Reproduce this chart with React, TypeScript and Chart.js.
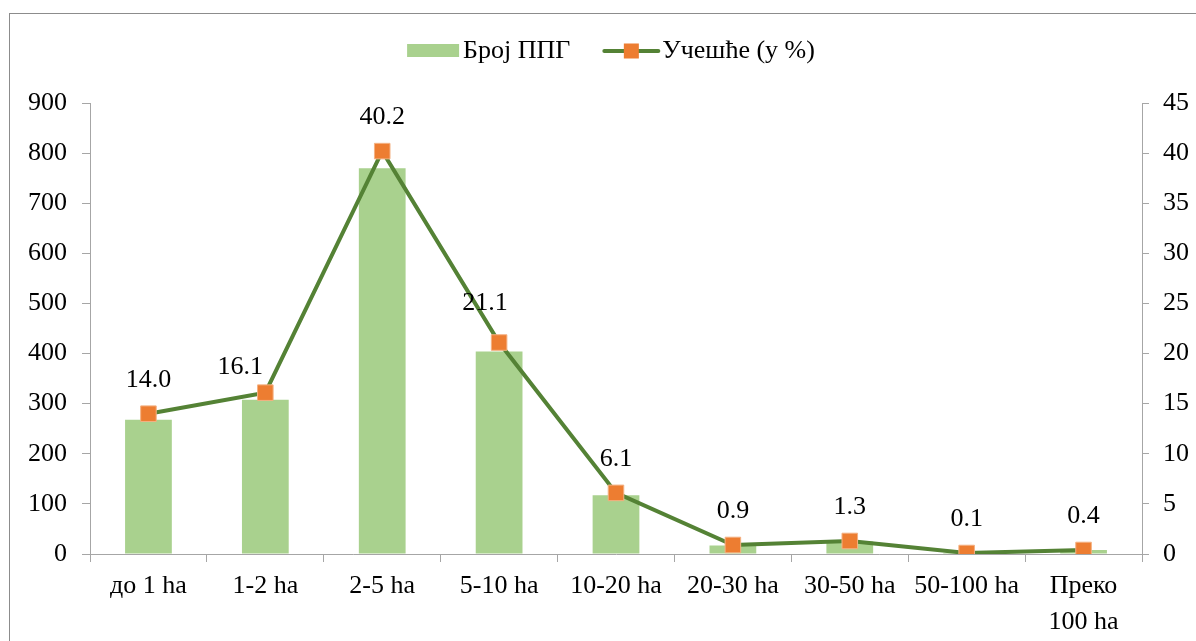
import React, { useEffect, useRef } from "react";
import { Chart, registerables } from "chart.js";

Chart.register(...registerables);

const categories: (string | string[])[] = [
  "до 1 ha",
  "1-2 ha",
  "2-5 ha",
  "5-10 ha",
  "10-20 ha",
  "20-30 ha",
  "30-50 ha",
  "50-100 ha",
  ["Преко", "100 ha"],
];
const farmCounts = [268, 308, 770, 404, 117, 17, 25, 2, 8];
const sharePercent = [14.0, 16.1, 40.2, 21.1, 6.1, 0.9, 1.3, 0.1, 0.4];
const leftTicks = [0, 100, 200, 300, 400, 500, 600, 700, 800, 900];
const rightTicks = [0, 5, 10, 15, 20, 25, 30, 35, 40, 45];

const barLabel = "Број ППГ";
const lineLabel = "Учешће (у %)";

// manual nudges of individual data labels (style only)
const labelNudgeX = [0, -25, 0, -14, 0, 0, 0, 0, 0];
const labelNudgeY = [0, 9, 0, -5, 0, 0, 0, 0, 0];

const FONT = "'Liberation Serif', 'Times New Roman', serif";
const BAR_COLOR = "#A9D18E";
const LINE_COLOR = "#548235";
const MARKER_COLOR = "#ED7D31";
const AXIS_COLOR = "#A6A6A6";

const dataLabelPlugin = {
  id: "dataLabels",
  afterDatasetsDraw(chart: any) {
    const meta = chart.getDatasetMeta(0);
    const ctx = chart.ctx;
    ctx.save();
    ctx.font = `26px ${FONT}`;
    ctx.fillStyle = "#000";
    ctx.textAlign = "center";
    ctx.textBaseline = "middle";
    meta.data.forEach((pt: any, i: number) => {
      ctx.fillText(
        sharePercent[i].toFixed(1),
        pt.x + labelNudgeX[i],
        pt.y - 34 + labelNudgeY[i]
      );
    });
    ctx.restore();
  },
};

const legendPlugin = {
  id: "customLegend",
  afterDraw(chart: any) {
    const ctx = chart.ctx;
    ctx.save();
    ctx.font = `26px ${FONT}`;
    ctx.textBaseline = "middle";
    ctx.textAlign = "left";
    const cy = 51;
    const barTextW = ctx.measureText(barLabel).width;
    const lineTextW = ctx.measureText(lineLabel).width;
    const total = 52 + 4 + barTextW + 34 + 54 + 4 + lineTextW;
    let x = chart.width / 2 - total / 2 + 13;
    ctx.fillStyle = BAR_COLOR;
    ctx.fillRect(x, cy - 7, 52, 13);
    x += 56;
    ctx.fillStyle = "#000";
    ctx.fillText(barLabel, x, cy);
    x += barTextW + 34;
    ctx.strokeStyle = LINE_COLOR;
    ctx.lineWidth = 4;
    ctx.lineCap = "round";
    ctx.beginPath();
    ctx.moveTo(x, cy);
    ctx.lineTo(x + 54, cy);
    ctx.stroke();
    ctx.fillStyle = MARKER_COLOR;
    ctx.fillRect(x + 27 - 7.5, cy - 7.5, 15, 15);
    x += 58;
    ctx.fillStyle = "#000";
    ctx.fillText(lineLabel, x, cy);
    ctx.restore();
  },
};

export default function App() {
  const canvasRef = useRef<HTMLCanvasElement | null>(null);

  useEffect(() => {
    if (!canvasRef.current) return;
    const chart = new Chart(canvasRef.current, {
      type: "bar",
      data: {
        labels: categories as any,
        datasets: [
          {
            type: "line",
            label: lineLabel,
            data: sharePercent,
            yAxisID: "y1",
            borderColor: LINE_COLOR,
            borderWidth: 4,
            pointStyle: "rect",
            pointRadius: 11,
            pointHoverRadius: 11,
            pointBackgroundColor: MARKER_COLOR,
            pointBorderColor: "#F4B183",
            pointBorderWidth: 1,
            tension: 0,
            order: 0,
          } as any,
          {
            type: "bar",
            label: barLabel,
            data: farmCounts,
            yAxisID: "y",
            backgroundColor: BAR_COLOR,
            borderWidth: 0,
            barPercentage: 0.4,
            categoryPercentage: 1.0,
            order: 1,
          } as any,
        ],
      },
      options: {
        responsive: false,
        animation: false,
        layout: { padding: { left: 0, right: 0, top: 103, bottom: 0 } },
        plugins: {
          legend: { display: false },
          tooltip: { enabled: false },
          title: { display: false },
        },
        scales: {
          x: {
            afterFit(scale: any) {
              scale.height = 87;
            },
            grid: {
              offset: true,
              drawOnChartArea: false,
              drawTicks: true,
              tickLength: 8,
              color: AXIS_COLOR,
            },
            border: { display: true, color: AXIS_COLOR, width: 1 },
            ticks: {
              color: "#000",
              font: { family: FONT, size: 26, lineHeight: 1.4 },
              padding: 6,
              maxRotation: 0,
              autoSkip: false,
            },
          },
          y: {
            position: "left",
            min: 0,
            max: 900,
            afterFit(scale: any) {
              scale.width = 90;
            },
            afterBuildTicks(scale: any) {
              scale.ticks = leftTicks.map((v) => ({ value: v }));
            },
            grid: {
              drawOnChartArea: false,
              drawTicks: true,
              tickLength: 8,
              color: AXIS_COLOR,
            },
            border: { display: true, color: AXIS_COLOR, width: 1 },
            ticks: {
              color: "#000",
              font: { family: FONT, size: 26 },
              padding: 15,
            },
          },
          y1: {
            position: "right",
            min: 0,
            max: 45,
            afterFit(scale: any) {
              scale.width = 54;
            },
            afterBuildTicks(scale: any) {
              scale.ticks = rightTicks.map((v) => ({ value: v }));
            },
            grid: {
              drawOnChartArea: false,
              drawTicks: true,
              tickLength: 7,
              color: AXIS_COLOR,
            },
            border: { display: true, color: AXIS_COLOR, width: 1 },
            ticks: {
              color: "#000",
              font: { family: FONT, size: 26 },
              padding: 14,
            },
          },
        },
      } as any,
      plugins: [dataLabelPlugin, legendPlugin],
    });
    return () => chart.destroy();
  }, []);

  return (
    <div
      style={{
        position: "absolute",
        left: 0,
        top: 0,
        width: 1196,
        height: 641,
        overflow: "hidden",
        background: "#fff",
      }}
    >
      <div
        style={{
          position: "absolute",
          left: 9,
          top: 13,
          width: 1220,
          height: 680,
          border: "1px solid #8C8C8C",
          boxSizing: "border-box",
        }}
      />
      <canvas
        ref={canvasRef}
        width={1196}
        height={641}
        style={{ position: "absolute", left: 0, top: 0, width: 1196, height: 641 }}
      />
    </div>
  );
}
